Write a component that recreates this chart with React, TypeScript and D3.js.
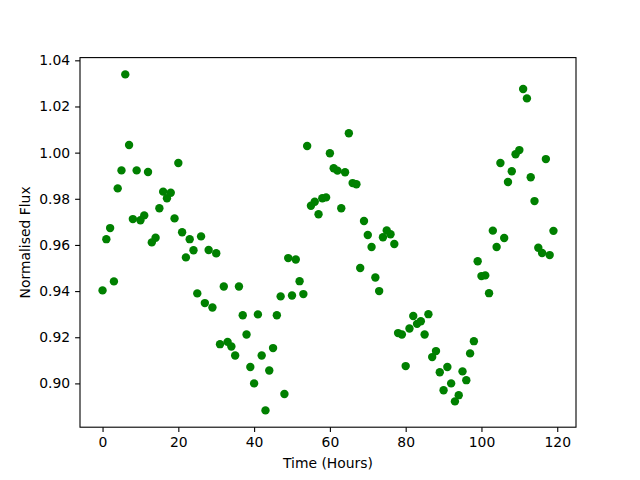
import React, { useEffect, useRef } from "react";
import * as d3 from "d3";

// --- Data ---
const hours: number[] = [
  0, 1, 2, 3, 4, 5, 6, 7, 8, 9, 10, 11, 12, 13, 14, 15, 16, 17, 18, 19,
  20, 21, 22, 23, 24, 25, 26, 27, 28, 29, 30, 31, 32, 33, 34, 35, 36, 37, 38, 39,
  40, 41, 42, 43, 44, 45, 46, 47, 48, 49, 50, 51, 52, 53, 54, 55, 56, 57, 58, 59,
  60, 61, 62, 63, 64, 65, 66, 67, 68, 69, 70, 71, 72, 73, 74, 75, 76, 77, 78, 79,
  80, 81, 82, 83, 84, 85, 86, 87, 88, 89, 90, 91, 92, 93, 94, 95, 96, 97, 98, 99,
  100, 101, 102, 103, 104, 105, 106, 107, 108, 109, 110, 111, 112, 113, 114, 115, 116, 117, 118, 119,
];

const flux: number[] = [
  0.9403, 0.9625, 0.9673, 0.9442, 0.9845, 0.9923, 1.0339, 1.0033, 0.9712, 0.9923,
  0.9707, 0.9728, 0.9916, 0.9611, 0.9631, 0.9759, 0.9831, 0.9802, 0.9826, 0.9715,
  0.9955, 0.9655, 0.9546, 0.9625, 0.9577, 0.939, 0.9637, 0.9348, 0.9578, 0.9329,
  0.9564, 0.917, 0.942, 0.918, 0.916, 0.9121, 0.942, 0.9295, 0.9212, 0.9071,
  0.9, 0.9299, 0.9121, 0.8883, 0.9056, 0.9153, 0.9295, 0.9377, 0.8954, 0.9543,
  0.9381, 0.9537, 0.9443, 0.9387, 1.0029, 0.977, 0.9787, 0.9733, 0.9802, 0.9806,
  0.9997, 0.9932, 0.9922, 0.9759, 0.9915, 1.0084, 0.9868, 0.9863, 0.95, 0.9704,
  0.9643, 0.9591, 0.9459, 0.94, 0.9633, 0.9663, 0.9646, 0.9604, 0.9218, 0.9212,
  0.9075, 0.9238, 0.9292, 0.9258, 0.9269, 0.9212, 0.93, 0.9114, 0.914, 0.9048,
  0.897, 0.9071, 0.9, 0.8922, 0.8949, 0.9052, 0.9014, 0.913, 0.9183, 0.9529,
  0.9465, 0.9468, 0.9391, 0.9662, 0.9591, 0.9955, 0.963, 0.9873, 0.9919, 0.9993,
  1.0011, 1.0276, 1.0235, 0.9893, 0.979, 0.9588, 0.9565, 0.9972, 0.9556, 0.9661,
];

const xTicks = [0, 20, 40, 60, 80, 100, 120];
const yTicks = [0.9, 0.92, 0.94, 0.96, 0.98, 1.0, 1.02, 1.04];

const W = 640;
const H = 480;
const FONT = "'DejaVu Sans', sans-serif";

const App: React.FC = () => {
  const svgRef = useRef<SVGSVGElement>(null);

  useEffect(() => {
    if (!svgRef.current) return;
    const svg = d3.select(svgRef.current);
    svg.selectAll("*").remove();

    // matplotlib default axes box
    const left = 80, right = 576, top = 57.6, bottom = 427.2;

    // 5% margins like matplotlib autoscale
    const [x0, x1] = d3.extent(hours) as [number, number];
    const [y0, y1] = d3.extent(flux) as [number, number];
    const dx = (x1 - x0) * 0.05;
    const dy = (y1 - y0) * 0.05;

    const x = d3.scaleLinear().domain([x0 - dx, x1 + dx]).range([left, right]);
    const y = d3.scaleLinear().domain([y0 - dy, y1 + dy]).range([bottom, top]);

    svg.append("rect").attr("width", W).attr("height", H).attr("fill", "white");

    // points
    svg
      .append("g")
      .selectAll("circle")
      .data(hours.map((h, i) => ({ h, f: flux[i] })))
      .enter()
      .append("circle")
      .attr("cx", (d) => x(d.h))
      .attr("cy", (d) => y(d.f))
      .attr("r", 4.2)
      .attr("fill", "#008000");

    // frame
    svg
      .append("rect")
      .attr("x", left)
      .attr("y", top)
      .attr("width", right - left)
      .attr("height", bottom - top)
      .attr("fill", "none")
      .attr("stroke", "black")
      .attr("stroke-width", 1.1);

    // x axis
    const xa = svg
      .append("g")
      .attr("transform", `translate(0,${bottom})`)
      .call(d3.axisBottom(x).tickValues(xTicks).tickSize(4.9).tickPadding(4.9).tickFormat(d3.format("d")));
    xa.select(".domain").remove();

    // y axis
    const ya = svg
      .append("g")
      .attr("transform", `translate(${left},0)`)
      .call(d3.axisLeft(y).tickValues(yTicks).tickSize(4.9).tickPadding(4.9).tickFormat(d3.format(".2f")));
    ya.select(".domain").remove();

    svg
      .selectAll(".tick line")
      .attr("stroke", "black")
      .attr("stroke-width", 1.1);
    svg
      .selectAll(".tick text")
      .attr("fill", "black")
      .style("font-family", FONT)
      .style("font-size", "13.9px");

    // labels
    svg
      .append("text")
      .attr("x", (left + right) / 2)
      .attr("y", 468)
      .attr("text-anchor", "middle")
      .style("font-family", FONT)
      .style("font-size", "13.9px")
      .text("Time (Hours)");

    svg
      .append("text")
      .attr("transform", `translate(30,${(top + bottom) / 2}) rotate(-90)`)
      .attr("text-anchor", "middle")
      .style("font-family", FONT)
      .style("font-size", "13.9px")
      .text("Normalised Flux");
  }, []);

  return (
    <div style={{ position: "absolute", left: 0, top: 0 }}>
      <svg ref={svgRef} width={W} height={H} style={{ display: "block" }} />
    </div>
  );
};

export default App;
